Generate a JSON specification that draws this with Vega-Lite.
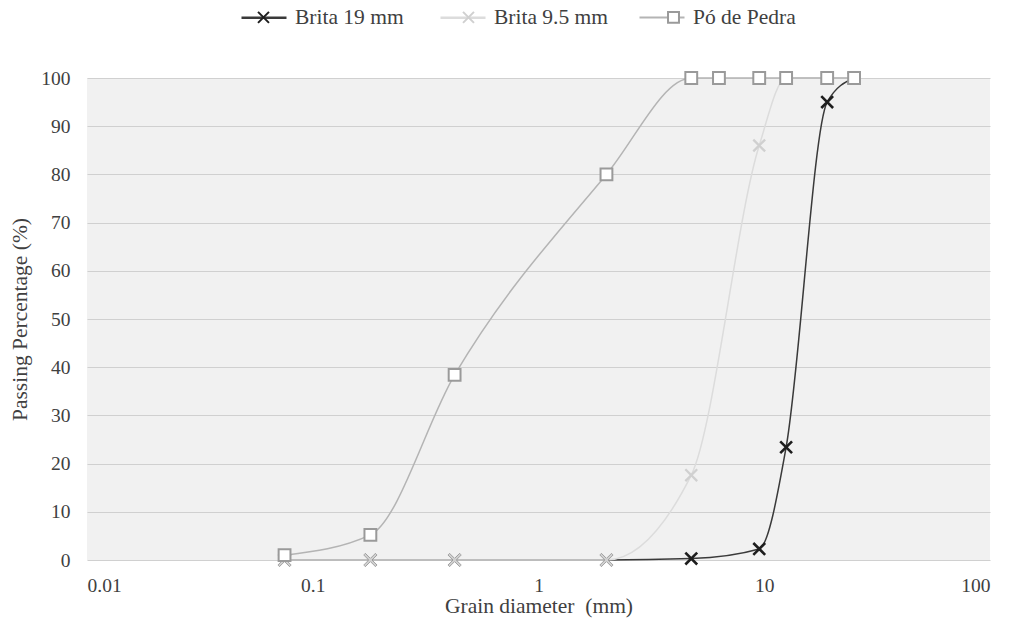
{
  "$schema": "https://vega.github.io/schema/vega-lite/v6.json",
  "width": 903,
  "height": 482,
  "autosize": {"type": "none"},
  "padding": {"left": 87, "top": 78, "right": 24, "bottom": 68},
  "background": "white",
  "config": {
    "font": "Liberation Serif",
    "view": {"fill": "#f1f1f1", "stroke": null},
    "axis": {"labelFont": "Liberation Serif", "titleFont": "Liberation Serif", "labelFontSize": 19.5, "titleFontSize": 21.5, "labelColor": "#404040", "titleColor": "#404040", "titleFontWeight": "normal", "domain": false, "ticks": false},
    "legend": {"labelFont": "Liberation Serif", "labelFontSize": 21.5, "labelColor": "#404040", "padding": 0}
  },
  "data": {"values": [
    {"d": 0.075, "p": 0, "s": "Brita 19 mm"},
    {"d": 0.18, "p": 0, "s": "Brita 19 mm"},
    {"d": 0.425, "p": 0, "s": "Brita 19 mm"},
    {"d": 2.0, "p": 0, "s": "Brita 19 mm"},
    {"d": 4.75, "p": 0.3, "s": "Brita 19 mm"},
    {"d": 9.5, "p": 2.3, "s": "Brita 19 mm"},
    {"d": 12.5, "p": 23.4, "s": "Brita 19 mm"},
    {"d": 19, "p": 95, "s": "Brita 19 mm"},
    {"d": 25, "p": 100, "s": "Brita 19 mm"},
    {"d": 0.075, "p": 0, "s": "Brita 9.5 mm"},
    {"d": 0.18, "p": 0, "s": "Brita 9.5 mm"},
    {"d": 0.425, "p": 0, "s": "Brita 9.5 mm"},
    {"d": 2.0, "p": 0, "s": "Brita 9.5 mm"},
    {"d": 4.75, "p": 17.6, "s": "Brita 9.5 mm"},
    {"d": 9.5, "p": 86, "s": "Brita 9.5 mm"},
    {"d": 12.5, "p": 100, "s": "Brita 9.5 mm"},
    {"d": 19, "p": 100, "s": "Brita 9.5 mm"},
    {"d": 25, "p": 100, "s": "Brita 9.5 mm"},
    {"d": 0.075, "p": 1, "s": "Pó de Pedra"},
    {"d": 0.18, "p": 5.2, "s": "Pó de Pedra"},
    {"d": 0.425, "p": 38.4, "s": "Pó de Pedra"},
    {"d": 2.0, "p": 80, "s": "Pó de Pedra"},
    {"d": 4.75, "p": 100, "s": "Pó de Pedra"},
    {"d": 6.3, "p": 100, "s": "Pó de Pedra"},
    {"d": 9.5, "p": 100, "s": "Pó de Pedra"},
    {"d": 12.5, "p": 100, "s": "Pó de Pedra"},
    {"d": 19, "p": 100, "s": "Pó de Pedra"},
    {"d": 25, "p": 100, "s": "Pó de Pedra"}
  ]},
  "encoding": {
    "x": {"field": "d", "type": "quantitative",
      "scale": {"type": "log", "domain": [0.01, 100], "nice": false},
      "axis": {"values": [0.01, 0.1, 1, 10, 100], "format": "~g", "grid": false, "title": "Grain diameter\u00a0\u00a0(mm)", "labelPadding": 16, "titlePadding": 1}},
    "y": {"field": "p", "type": "quantitative",
      "scale": {"domain": [0, 100], "nice": false},
      "axis": {"values": [0, 10, 20, 30, 40, 50, 60, 70, 80, 90, 100], "grid": true, "gridColor": "#d0d0d0", "gridWidth": 1.2, "title": "Passing Percentage (%)", "labelPadding": 17, "titlePadding": 9}}
  },
  "layer": [
    {
      "mark": {"type": "line", "interpolate": "monotone", "strokeWidth": 1.5},
      "encoding": {
        "stroke": {"field": "s", "type": "nominal",
          "scale": {"domain": ["Brita 19 mm", "Brita 9.5 mm", "Pó de Pedra"], "range": ["#3a3a3a", "#dcdcdc", "#b4b4b4"]},
          "legend": {"title": null, "orient": "none", "legendX": 153, "legendY": -84.5, "direction": "horizontal", "columns": 3, "columnPadding": 25, "gridAlign": "all", "symbolType": "stroke", "symbolSize": 2025, "symbolStrokeWidth": 1.5, "labelOffset": 7}}
      }
    },
    {
      "mark": {"type": "point", "filled": false, "fill": "white", "fillOpacity": 1, "size": 140, "opacity": 1},
      "encoding": {
        "shape": {"field": "s", "type": "nominal",
          "scale": {"range": ["M-1,-1L1,1M-1,1L1,-1", "M-1,-1L1,1M-1,1L1,-1", "square"]},
          "legend": {"title": null, "orient": "none", "legendX": 153, "legendY": -71.75, "direction": "horizontal", "columns": 3, "columnPadding": 170, "gridAlign": "all", "symbolSize": 120, "symbolStrokeWidth": 2, "symbolOffset": 12.75, "symbolFillColor": "white", "labelOffset": 0, "labelExpr": "''"}},
        "color": {"field": "s", "type": "nominal",
          "scale": {"range": ["#1e1e1e", "#d0d0d0", "#9a9a9a"]},
          "legend": {"title": null, "orient": "none", "legendX": 153, "legendY": -71.75, "direction": "horizontal", "columns": 3, "columnPadding": 170, "gridAlign": "all", "symbolSize": 120, "symbolStrokeWidth": 2, "symbolOffset": 12.75, "symbolFillColor": "white", "labelOffset": 0, "labelExpr": "''"}},
        "strokeWidth": {"field": "s", "type": "nominal",
          "scale": {"domain": ["Brita 19 mm", "Brita 9.5 mm", "Pó de Pedra"], "range": [2.6, 2, 1.8]},
          "legend": null}
      }
    }
  ]
}
